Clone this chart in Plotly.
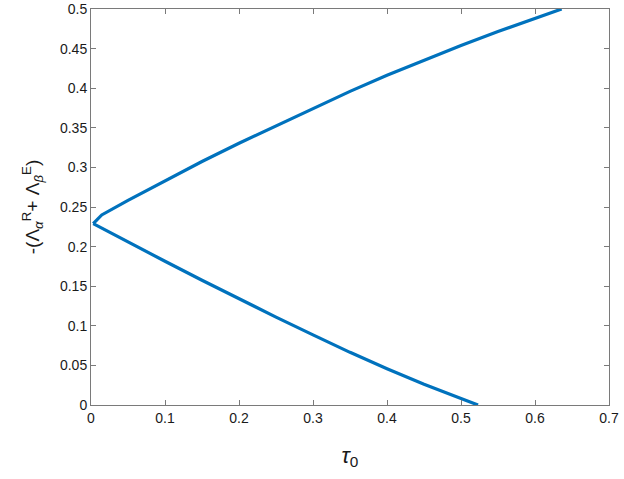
import plotly.graph_objects as go

# Upper branch (tau_0, value)
upper_x = [0.003, 0.0145, 0.05, 0.1, 0.15, 0.2, 0.25, 0.3, 0.35, 0.4, 0.45, 0.5, 0.55, 0.6, 0.636]
upper_y = [0.229, 0.240, 0.2583, 0.2834, 0.3075, 0.3305, 0.3525, 0.3745, 0.396, 0.4163, 0.4355, 0.454, 0.4715, 0.4885, 0.500]

# Lower branch
lower_x = [0.003, 0.05, 0.1, 0.15, 0.2, 0.25, 0.3, 0.35, 0.4, 0.45, 0.5, 0.523]
lower_y = [0.229, 0.2055, 0.1815, 0.1575, 0.134, 0.111, 0.0885, 0.0665, 0.0458, 0.0262, 0.0082, 0.0]

x_ticks = [0, 0.1, 0.2, 0.3, 0.4, 0.5, 0.6, 0.7]
y_ticks = [0, 0.05, 0.1, 0.15, 0.2, 0.25, 0.3, 0.35, 0.4, 0.45, 0.5]

color = "#0072BD"
fig = go.Figure()
fig.add_trace(go.Scatter(x=upper_x, y=upper_y, mode="lines",
                         line=dict(color=color, width=3.2), showlegend=False))
fig.add_trace(go.Scatter(x=lower_x, y=lower_y, mode="lines",
                         line=dict(color=color, width=3.2), showlegend=False))

axis_common = dict(showline=True, linecolor="#7a7a7a", linewidth=1, mirror="ticks",
                   ticks="inside", ticklen=5, tickcolor="#7a7a7a", showgrid=False,
                   zeroline=False, automargin=False,
                   tickfont=dict(family="Liberation Sans, Arial", size=14, color="#1a1a1a"))

fig.update_layout(
    width=624, height=479,
    margin=dict(l=91, r=15, t=9, b=74),
    paper_bgcolor="white", plot_bgcolor="white",
    xaxis=dict(range=[0, 0.7], tickvals=x_ticks, ticktext=[str(v) for v in x_ticks],
               title=dict(text="<i>τ</i><sub>0</sub>", standoff=22,
                          font=dict(family="Liberation Sans, Arial", size=22, color="#1a1a1a")),
               **axis_common),
    yaxis=dict(range=[0, 0.5], tickvals=y_ticks, ticktext=[("%g" % v) for v in y_ticks],
               title=dict(text="-(Λ<sub><i>α</i></sub><sup>R</sup>+ Λ<sub><i>β</i></sub><sup>E</sup>)",
                          font=dict(family="Liberation Sans, Arial", size=19, color="#1a1a1a")),
               **axis_common),
)

fig.write_html("out.html", config={"displayModeBar": False},
               post_script="document.body.style.margin='0';")
